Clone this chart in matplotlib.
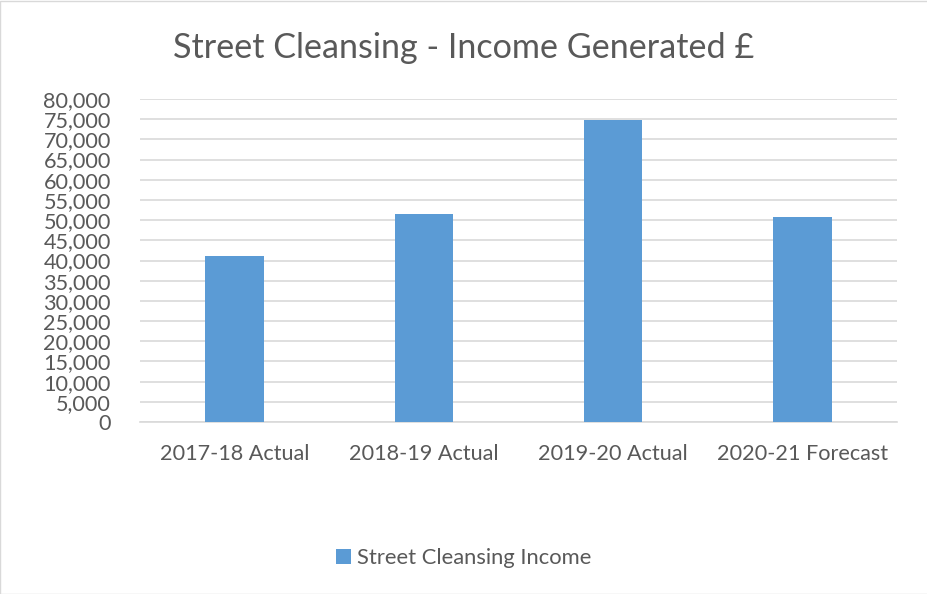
import matplotlib
matplotlib.use("Agg")
import matplotlib.pyplot as plt
from matplotlib.ticker import FuncFormatter, MultipleLocator

# Data
categories = ["2017-18 Actual", "2018-19 Actual", "2019-20 Actual", "2020-21 Forecast"]
income = [41000, 51600, 74900, 50750]
series_name = "Street Cleansing Income"
title = "Street Cleansing - Income Generated £"

BAR_COLOR = "#5B9BD5"
TEXT_COLOR = "#595959"
GRID_COLOR = "#D9D9D9"

plt.rcParams['font.family'] = ['Lato', 'DejaVu Sans']

fig = plt.figure(figsize=(9.28, 5.94), dpi=100)
ax = fig.add_axes([140 / 928, 1 - 422 / 594, 757 / 928, 323 / 594])

x = list(range(len(categories)))
ax.bar(x, income, width=0.31, color=BAR_COLOR, label=series_name, zorder=3)

ax.set_xlim(-0.5, len(categories) - 0.5)
ax.set_ylim(0, 80000)
ax.yaxis.set_major_locator(MultipleLocator(5000))
ax.yaxis.set_major_formatter(FuncFormatter(lambda v, p: f"{int(v):,}"))
ax.set_xticks(x)
ax.set_xticklabels(categories)

ax.grid(axis="y", color=GRID_COLOR, linewidth=1.2, zorder=0)
for side in ["top", "right", "left"]:
    ax.spines[side].set_visible(False)
ax.spines["bottom"].set_color(GRID_COLOR)
ax.spines["bottom"].set_linewidth(1.2)
ax.tick_params(axis="both", length=0, labelsize=15.6, labelcolor=TEXT_COLOR)
ax.tick_params(axis="x", pad=16)
ax.tick_params(axis="y", pad=21)

fig.text(0.5, 1 - 48 / 594, title, ha="center", va="center", fontsize=24.6, color=TEXT_COLOR)

fig.legend(loc="center", bbox_to_anchor=(0.5, 1 - 558 / 594), frameon=False,
           fontsize=15.8, labelcolor=TEXT_COLOR, handlelength=0.65, handleheight=0.65,
           handletextpad=0.3)

# light border around the chart area
fig.patches.append(plt.Rectangle((0.0005, 0.0008), 0.999, 0.998, transform=fig.transFigure,
                                 fill=False, edgecolor=GRID_COLOR, linewidth=1))

fig.savefig("out.png", dpi=100)
